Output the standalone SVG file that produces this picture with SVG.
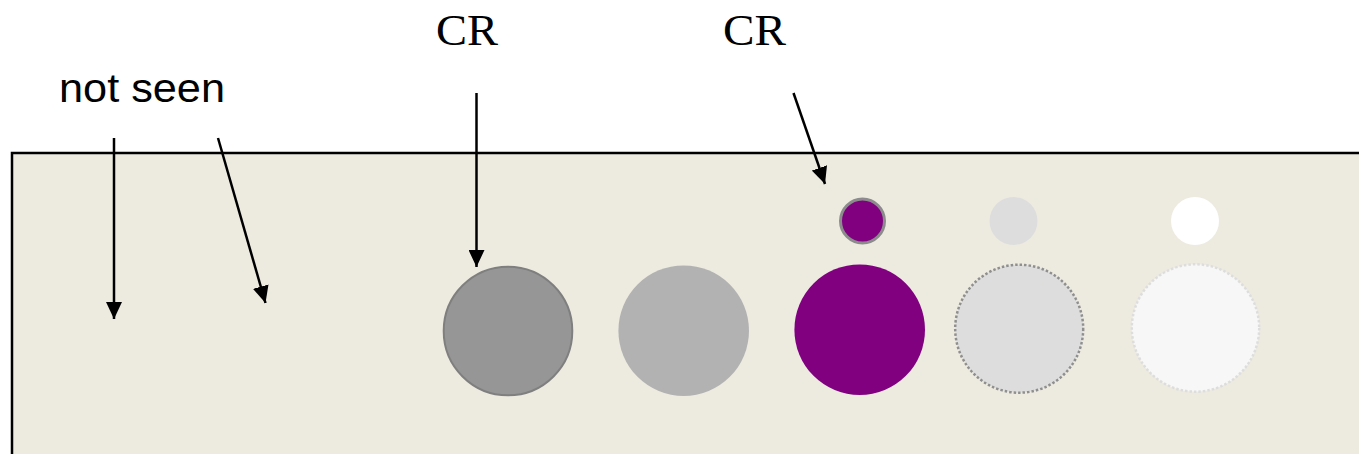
<svg xmlns="http://www.w3.org/2000/svg" width="1359" height="454" viewBox="0 0 1359 454">
<style>
.lbl-sans{font-family:"Liberation Sans",Arial,sans-serif;font-size:40px;fill:#000}
.lbl-serif{font-family:"Liberation Serif","Times New Roman",serif;font-size:44px;fill:#000}
.conn{stroke:#000;stroke-width:2.5;fill:none;marker-end:url(#arrow)}
</style>
<defs>
<marker id="arrow" viewBox="0 0 17 16" refX="17" refY="8" markerUnits="userSpaceOnUse" markerWidth="17" markerHeight="16" orient="auto">
<path d="M0,0 L17,8 L0,16 Z" fill="#000"/>
</marker>
</defs>
<rect id="background" x="12" y="153" width="1360" height="320" fill="#EDEBE0" stroke="#000" stroke-width="2.5"/>
<g id="label-not-seen"><text class="lbl-sans" x="59" y="102" textLength="166" lengthAdjust="spacingAndGlyphs">not seen</text></g>
<g id="label-cr-1"><text class="lbl-serif" x="436" y="45" textLength="62" lengthAdjust="spacingAndGlyphs">CR</text></g>
<g id="label-cr-2"><text class="lbl-serif" x="723" y="45" textLength="63" lengthAdjust="spacingAndGlyphs">CR</text></g>
<g id="circle-gray"><circle cx="508" cy="331" r="64.3" fill="#969696" stroke="#7F7F7F" stroke-width="2"/></g>
<g id="circle-lightgray"><circle cx="683.7" cy="330.7" r="65.3" fill="#B2B2B2"/></g>
<g id="circle-purple"><circle cx="859.7" cy="329.7" r="65.3" fill="#800080"/></g>
<g id="circle-dotted-gray"><circle cx="1019.2" cy="328.7" r="64" fill="#DDDDDD" stroke="#8F8F8F" stroke-width="2.5" stroke-dasharray="2.5 2"/></g>
<g id="circle-dotted-white"><circle cx="1195.5" cy="328" r="63.7" fill="#F7F7F7" stroke="#DDDDDD" stroke-width="2.5" stroke-dasharray="2.5 2"/></g>
<g id="small-purple"><circle cx="862.5" cy="221" r="22" fill="#800080" stroke="#8C8C8C" stroke-width="3"/></g>
<g id="small-gray"><circle cx="1013.5" cy="221" r="24" fill="#DDDDDD"/></g>
<g id="small-white"><circle cx="1195" cy="221" r="24" fill="#FFFFFF"/></g>
<g id="connectors">
<line class="conn" x1="114" y1="138" x2="114" y2="319"/>
<line class="conn" x1="218" y1="138" x2="265.5" y2="303"/>
<line class="conn" x1="476.5" y1="93" x2="476.5" y2="267"/>
<line class="conn" x1="793.5" y1="93" x2="825" y2="184"/>
</g>
</svg>
